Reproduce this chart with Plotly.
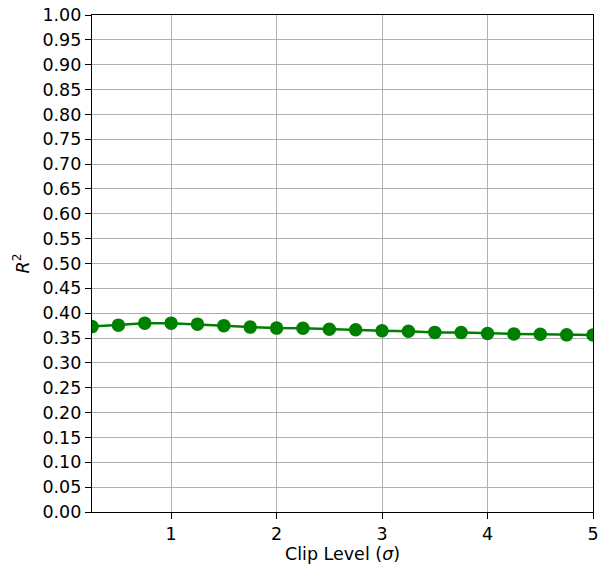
import plotly.graph_objects as go

clip_level = [0.25, 0.5, 0.75, 1.0, 1.25, 1.5, 1.75, 2.0, 2.25, 2.5,
              2.75, 3.0, 3.25, 3.5, 3.75, 4.0, 4.25, 4.5, 4.75, 5.0]
r2 = [0.373, 0.376, 0.380, 0.380, 0.378, 0.375, 0.372, 0.370, 0.3697, 0.3677,
      0.3669, 0.3648, 0.3635, 0.3614, 0.361, 0.359, 0.3584, 0.3577, 0.3564, 0.356]
y_ticks = [round(i * 0.05, 2) for i in range(21)]
x_ticks = [1, 2, 3, 4, 5]

fig = go.Figure(go.Scatter(
    x=clip_level, y=r2, mode="lines+markers",
    line=dict(color="green", width=2.5),
    marker=dict(color="green", size=13.5),
    cliponaxis=True,
))

axis_common = dict(
    showline=True, linecolor="black", linewidth=1.2, mirror=True,
    showgrid=True, gridcolor="#b0b0b0", gridwidth=1,
    ticks="outside", ticklen=6, tickcolor="black", tickwidth=1.2,
    zeroline=False, automargin=False,
    tickfont=dict(family="DejaVu Sans", size=17.5, color="black"),
)

fig.update_layout(
    width=604, height=569,
    margin=dict(l=92, r=11, t=15, b=57),
    paper_bgcolor="white", plot_bgcolor="white",
    showlegend=False,
    xaxis=dict(range=[0.25, 5], tickvals=x_ticks,
               ticktext=[str(v) for v in x_ticks],
               title=dict(text="Clip Level (<i>σ</i>)", standoff=4,
                          font=dict(family="DejaVu Sans", size=17.5, color="black")),
               **axis_common),
    yaxis=dict(range=[0, 1], tickvals=y_ticks,
               ticktext=[f"{v:.2f}" for v in y_ticks],
               title=dict(text="<i>R</i><sup>2</sup>", standoff=8,
                          font=dict(family="DejaVu Sans", size=17.5, color="black")),
               **axis_common),
)

fig.write_html("out.html")
